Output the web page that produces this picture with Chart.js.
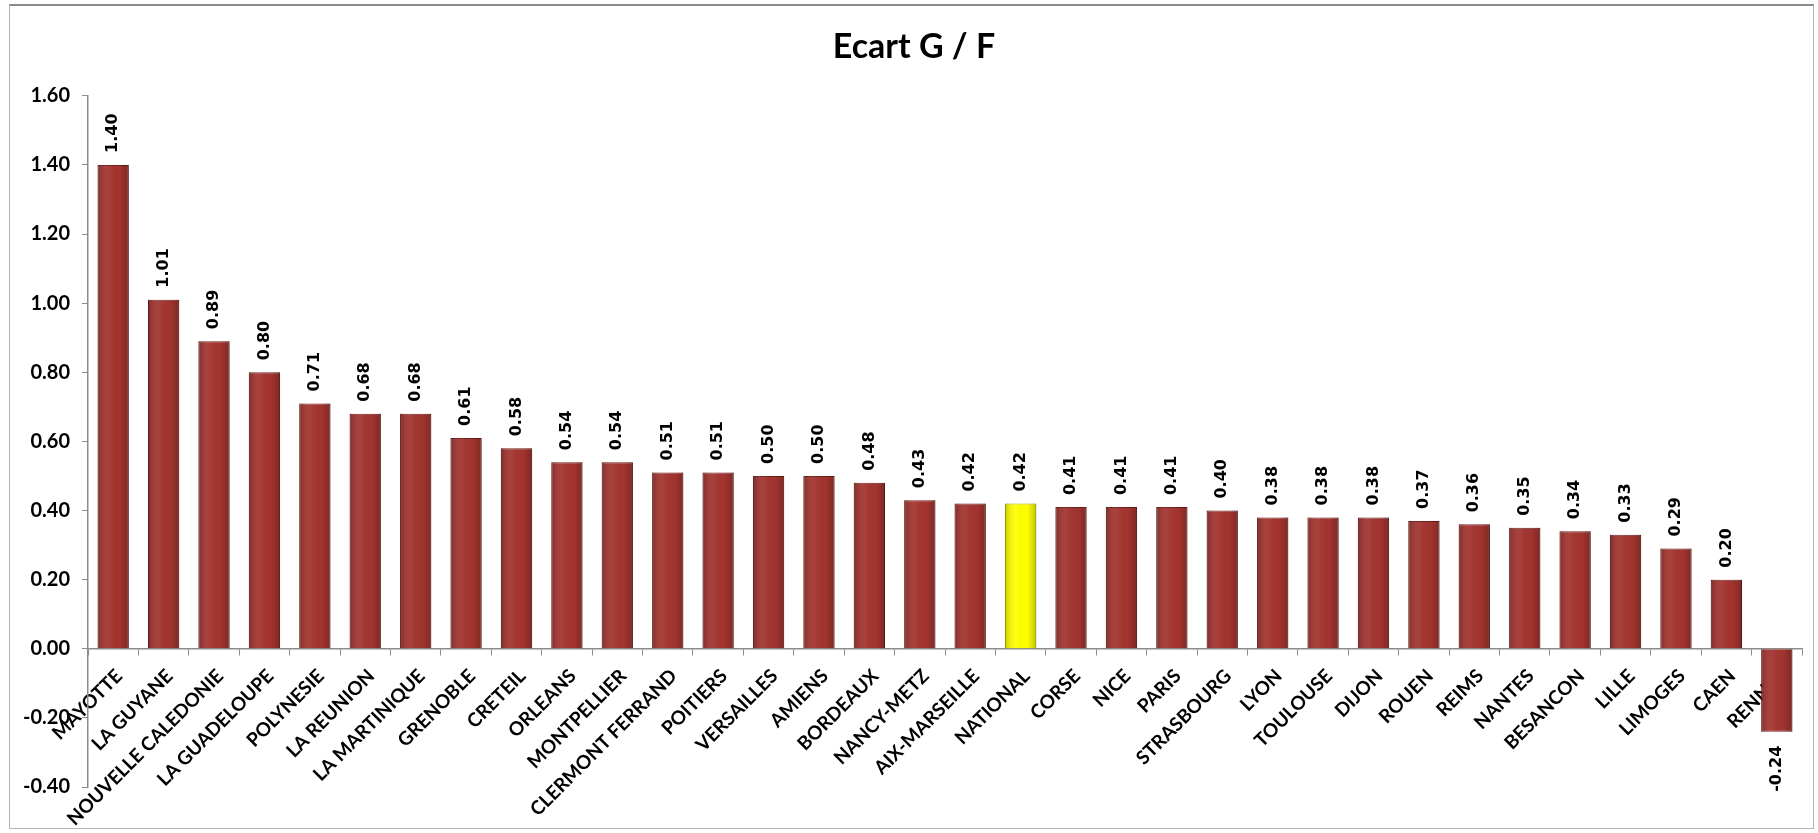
<!DOCTYPE html>
<html>
<head>
<meta charset="utf-8">
<script src="https://cdn.jsdelivr.net/npm/chart.js@4.4.1/dist/chart.umd.min.js"></script>
<style>
  html, body { margin: 0; padding: 0; background: #ffffff; }
  #wrap { position: relative; width: 1818px; height: 833px; }
  #frame { position: absolute; left: 9px; top: 4px; width: 1805px; height: 825px;
           border: 1px solid #b5b5b5; border-top: 2px solid #8c8c8c; box-sizing: border-box; pointer-events: none; }
  canvas { display: block; }
</style>
</head>
<body>
<div id="wrap">
  <canvas id="c" width="1818" height="833"></canvas>
  <div id="frame"></div>
</div>
<script>
const chartTitle = "Ecart G / F";
const categories = ["MAYOTTE", "LA GUYANE", "NOUVELLE CALEDONIE", "LA GUADELOUPE", "POLYNESIE",
  "LA REUNION", "LA MARTINIQUE", "GRENOBLE", "CRETEIL", "ORLEANS", "MONTPELLIER",
  "CLERMONT FERRAND", "POITIERS", "VERSAILLES", "AMIENS", "BORDEAUX", "NANCY-METZ",
  "AIX-MARSEILLE", "NATIONAL", "CORSE", "NICE", "PARIS", "STRASBOURG", "LYON", "TOULOUSE",
  "DIJON", "ROUEN", "REIMS", "NANTES", "BESANCON", "LILLE", "LIMOGES", "CAEN", "RENNES"];
const ecartValues = [1.40, 1.01, 0.89, 0.80, 0.71, 0.68, 0.68, 0.61, 0.58, 0.54, 0.54,
  0.51, 0.51, 0.50, 0.50, 0.48, 0.43, 0.42, 0.42, 0.41, 0.41, 0.41, 0.40, 0.38, 0.38,
  0.38, 0.37, 0.36, 0.35, 0.34, 0.33, 0.29, 0.20, -0.24];
const highlightCategory = "NATIONAL";
const yMin = -0.4, yMax = 1.6, yStep = 0.2;

const barColor = "#A3342F", barBorder = "#6F1F1C";
const hiColor = "#FFFF00", hiBorder = "#B8B800";

// subtle cylinder-like shading over each bar (uses the library's own bar geometry)
const barShading = {
  id: "barShading",
  afterDatasetsDraw(chart) {
    const ctx = chart.ctx;
    const meta = chart.getDatasetMeta(0);
    ctx.save();
    meta.data.forEach((el) => {
      const {x, y, base, width} = el.getProps(["x", "y", "base", "width"], true);
      const left = x - width / 2, top = Math.min(y, base), h = Math.abs(base - y);
      const g = ctx.createLinearGradient(left, 0, left + width, 0);
      g.addColorStop(0, "rgba(0,0,0,0.20)");
      g.addColorStop(0.35, "rgba(255,255,255,0.06)");
      g.addColorStop(0.7, "rgba(0,0,0,0.0)");
      g.addColorStop(1, "rgba(0,0,0,0.22)");
      ctx.fillStyle = g;
      ctx.fillRect(left, top, width, h);
    });
    ctx.restore();
  }
};

const valueLabels = {
  id: "valueLabels",
  afterDatasetsDraw(chart) {
    const ctx = chart.ctx;
    const meta = chart.getDatasetMeta(0);
    ctx.save();
    ctx.font = "bold 16px 'DejaVu Sans'";
    ctx.fillStyle = "#000000";
    ctx.textBaseline = "middle";
    meta.data.forEach((el, i) => {
      const v = chart.data.datasets[0].data[i];
      const txt = v.toFixed(2);
      ctx.save();
      if (v >= 0) {
        ctx.translate(el.x, el.y - 12);
        ctx.rotate(-Math.PI / 2);
        ctx.textAlign = "left";
      } else {
        ctx.translate(el.x, el.y + 14);
        ctx.rotate(-Math.PI / 2);
        ctx.textAlign = "right";
      }
      ctx.fillText(txt, 0, 0);
      ctx.restore();
    });
    ctx.restore();
  }
};

new Chart(document.getElementById("c"), {
  type: "bar",
  data: {
    labels: categories,
    datasets: [{
      data: ecartValues,
      backgroundColor: categories.map(c => c === highlightCategory ? hiColor : barColor),
      borderColor: categories.map(c => c === highlightCategory ? hiBorder : barBorder),
      borderWidth: 1,
      barPercentage: 0.62,
      categoryPercentage: 1.0
    }]
  },
  options: {
    responsive: false,
    animation: false,
    layout: { padding: { left: 10, right: 0, top: 0, bottom: 46 } },
    plugins: {
      legend: { display: false },
      tooltip: { enabled: false },
      title: {
        display: true,
        text: chartTitle,
        color: "#000000",
        font: { family: "Lato", size: 34, weight: "bold" },
        padding: { top: 27, bottom: 28 }
      }
    },
    scales: {
      x: {
        position: { y: 0 },
        z: 1,
        grid: { drawOnChartArea: false, drawTicks: true, tickLength: 6, color: "#8c8c8c", offset: true },
        border: { display: true, color: "#8c8c8c", width: 1.5 },
        ticks: {
          color: "#000000",
          font: { family: "Lato", size: 19, weight: "bold" },
          minRotation: 45, maxRotation: 45,
          autoSkip: false,
          labelOffset: 6,
          padding: 10
        }
      },
      y: {
        min: yMin, max: yMax,
        afterFit(scale) { scale.width = 78; },
        grid: { drawOnChartArea: false, drawTicks: true, tickLength: 6, color: "#8c8c8c" },
        border: { display: true, color: "#8c8c8c", width: 1.5 },
        ticks: {
          stepSize: yStep,
          color: "#000000",
          font: { family: "Lato", size: 20, weight: "bold" },
          padding: 12,
          callback: v => Number(v).toFixed(2)
        }
      },
      // empty right-hand spacer so the plot ends where the reference's does
      ySpacer: {
        position: "right",
        display: true,
        grid: { display: false },
        border: { display: false },
        ticks: { display: false },
        afterFit(scale) { scale.width = 16; }
      }
    }
  },
  plugins: [barShading, valueLabels]
});
</script>
</body>
</html>
